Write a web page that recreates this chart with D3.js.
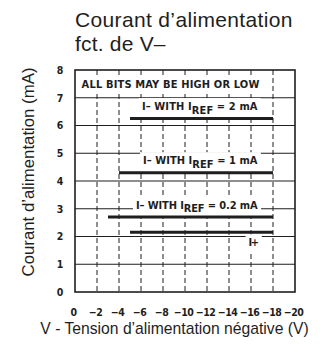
<!DOCTYPE html>
<html>
<head>
<meta charset="utf-8">
<script src="https://cdn.jsdelivr.net/npm/d3@7"></script>
<style>
  html, body { margin: 0; padding: 0; background: #fff; }
  svg { display: block; }
</style>
</head>
<body>
<script>
// Supply current vs. negative supply voltage
const voltageTicks = [0, -2, -4, -6, -8, -10, -12, -14, -16, -18, -20];
const currentTicks = [0, 1, 2, 3, 4, 5, 6, 7, 8];

const seriesLabelHead = ["I– WITH I", "I– WITH I", "I– WITH I", "I+"];
const seriesLabelSub  = ["REF", "REF", "REF", ""];
const seriesLabelTail = [" = 2 mA", " = 1 mA", " = 0.2 mA", ""];
const seriesStartV   = [-5, -4, -3, -5];
const seriesEndV     = [-18, -18, -18, -18];
const seriesCurrentMA = [6.25, 4.3, 2.7, 2.15];

const noteText = "ALL BITS MAY BE HIGH OR LOW";
const titleLines = ["Courant d’alimentation", "fct. de V–"];
const yTitle = "Courant d’alimentation (mA)";
const xTitle = "V - Tension d’alimentation négative (V)";

const W = 330, H = 352;
const ink = "#1e1e1e";
const sansFont = "'Liberation Sans', Arial, Helvetica, sans-serif";
const condFont = "'Liberation Sans Narrow', 'DejaVu Sans Condensed', 'Arial Narrow', sans-serif";

const svg = d3.select("body").append("svg")
  .attr("width", W).attr("height", H)
  .attr("viewBox", `0 0 ${W} ${H}`);

const x = d3.scaleLinear().domain([0, -20]).range([75, 295]);
const y = d3.scaleLinear().domain([0, 8]).range([292, 70]);

// Title (two lines)
titleLines.forEach((t, i) => {
  svg.append("text")
    .attr("x", 75).attr("y", 26.5 + i * 24)
    .attr("font-family", sansFont).attr("font-size", 21)
    .attr("letter-spacing", i === 0 ? 0.35 : 0.2)
    .attr("fill", ink).text(t);
});

// Grid: horizontal solid lines at each mA, vertical dashed lines every 2 V
const grid = svg.append("g");
grid.selectAll("line.h").data(currentTicks.slice(1, -1)).join("line")
  .attr("class", "h")
  .attr("x1", x(0)).attr("x2", x(-20))
  .attr("y1", d => y(d)).attr("y2", d => y(d))
  .attr("stroke", ink).attr("stroke-width", 1.2);
grid.selectAll("line.v").data(voltageTicks.slice(1, -1)).join("line")
  .attr("class", "v")
  .attr("x1", d => x(d)).attr("x2", d => x(d))
  .attr("y1", y(8)).attr("y2", y(0))
  .attr("stroke", ink).attr("stroke-width", 1)
  .attr("stroke-dasharray", "5,3");

// Annotation layer (white backing knocks out the grid behind text)
const annot = svg.append("g");
const labelLayer = svg.append("g");

// Draws a condensed bold label and spreads its letters to the given width
function addLabel(parent, xPos, yPos, head, sub, tail, size, anchor, width) {
  const t = parent.append("text")
    .attr("x", xPos).attr("y", yPos)
    .attr("text-anchor", anchor)
    .attr("font-family", condFont).attr("font-weight", "bold")
    .attr("font-size", size).attr("fill", ink);
  t.append("tspan").text(head);
  if (sub) {
    t.append("tspan").attr("dy", 3.5).text(sub);
    t.append("tspan").attr("dy", -3.5).text(tail);
  }
  const n = (head + sub + tail).length;
  const w = t.node().getBBox().width;
  if (n > 1) t.attr("letter-spacing", (width - w) / n);
  return t;
}

const labelWidths = [116, 115, 122, 9];
const labels = [];
labels.push(addLabel(labelLayer, x(-0.6), 88, noteText, "", "", 11, "start", 178));
seriesCurrentMA.forEach((c, i) => {
  const below = seriesLabelSub[i] === "";
  const yPos = below ? y(c) + 14 : y(c) - 8.5;
  labels.push(addLabel(labelLayer, x(-16.6), yPos,
    seriesLabelHead[i], seriesLabelSub[i], seriesLabelTail[i], 11, "end", labelWidths[i]));
});
labels.forEach(t => {
  const b = t.node().getBBox();
  annot.append("rect")
    .attr("x", b.x - 3).attr("y", b.y - 2)
    .attr("width", b.width + 6).attr("height", b.height + 4)
    .attr("fill", "#fff");
});

// Current traces
svg.append("g").selectAll("line.trace").data(seriesCurrentMA).join("line")
  .attr("class", "trace")
  .attr("x1", (d, i) => x(seriesStartV[i]))
  .attr("x2", (d, i) => x(seriesEndV[i]))
  .attr("y1", d => y(d)).attr("y2", d => y(d))
  .attr("stroke", ink).attr("stroke-width", 3);

// Frame
svg.append("rect")
  .attr("x", x(0)).attr("y", y(8))
  .attr("width", x(-20) - x(0)).attr("height", y(0) - y(8))
  .attr("fill", "none").attr("stroke", ink).attr("stroke-width", 1.6);

labelLayer.raise();

// Axes (tick labels only)
const fmt = d => d === 0 ? "0" : "−" + Math.abs(d);
const xAxis = svg.append("g")
  .attr("transform", `translate(0,${y(0) + 14})`)
  .call(d3.axisBottom(x).tickValues(voltageTicks).tickFormat(fmt).tickSize(0));
xAxis.select(".domain").remove();
xAxis.selectAll("text")
  .attr("font-family", condFont).attr("font-weight", "bold")
  .attr("font-size", 10.5).attr("fill", ink)
  .attr("letter-spacing", -0.5).attr("dx", -2);

const yAxis = svg.append("g")
  .attr("transform", `translate(${x(0) - 11},0)`)
  .call(d3.axisLeft(y).tickValues(currentTicks).tickFormat(d3.format("d")).tickSize(0));
yAxis.select(".domain").remove();
yAxis.selectAll("text")
  .attr("font-family", condFont).attr("font-weight", "bold")
  .attr("font-size", 10.5).attr("fill", ink)
  .attr("text-anchor", "middle").attr("x", -4);

// Axis titles
svg.append("text")
  .attr("transform", `translate(34,${(67 + 277) / 2}) rotate(-90)`)
  .attr("text-anchor", "middle")
  .attr("font-family", sansFont).attr("font-size", 16.8).attr("fill", ink)
  .text(yTitle);

svg.append("text")
  .attr("x", (39 + 310) / 2).attr("y", 334)
  .attr("text-anchor", "middle")
  .attr("font-family", sansFont).attr("font-size", 15.7).attr("fill", ink)
  .text(xTitle);
</script>
</body>
</html>
